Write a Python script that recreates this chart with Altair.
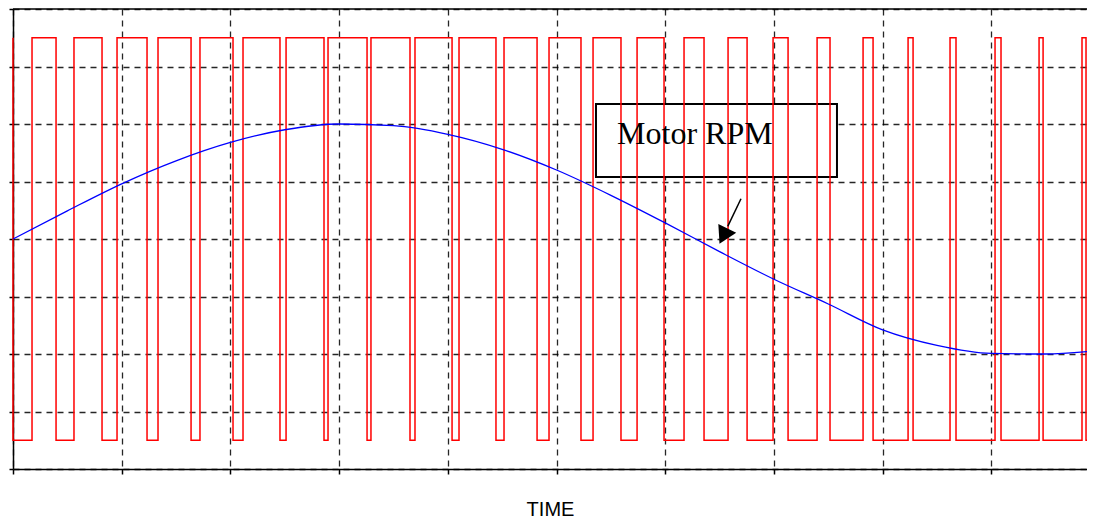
import altair as alt
import pandas as pd

# ---- data ----
X_END = 9.880          # visible end of the time axis (plot is cut at the window edge)
PWM_LOW = 0.5
PWM_HIGH = 7.5
pwm_rise = [0.175, 0.561, 0.957, 1.334, 1.720, 2.116, 2.512, 2.898, 3.293, 3.698,
            4.103, 4.517, 4.931, 5.336, 5.741, 6.173, 6.578, 6.992, 7.397, 7.820,
            8.234, 8.620, 9.034, 9.439, 9.834]
pwm_fall = [0.396, 0.819, 1.233, 1.638, 2.024, 2.456, 2.861, 3.257, 3.652, 4.039,
            4.443, 4.821, 5.225, 5.593, 5.989, 6.357, 6.753, 7.130, 7.516, 7.912,
            8.280, 8.675, 9.089, 9.476, 9.871]

rpm_t = [0, 0.5, 1.0, 1.5, 2.0, 2.5, 3.0, 3.5, 4.0, 4.5, 5.0, 5.5, 6.0, 6.5,
         7.0, 7.5, 8.0, 8.5, 9.0, 9.5, 9.880]
rpm_v = [4.00, 4.49, 4.96, 5.36, 5.68, 5.90, 6.00, 5.97, 5.82, 5.56, 5.20, 4.76,
         4.28, 3.78, 3.30, 2.87, 2.42, 2.15, 2.01, 2.00, 2.04]

x_ticks = [0, 1, 2, 3, 4, 5, 6, 7, 8, 9]
y_ticks = [0, 1, 2, 3, 4, 5, 6, 7, 8]
x_title = "TIME"
Y_TOP = 8

label_text = ["Motor RPM"]
label_box_x = [5.363]
label_box_x2 = [7.580]
label_box_y = [6.35]
label_box_y2 = [5.08]
label_x = [5.557]
label_y = [5.655]
arrow_x = [6.697]
arrow_y = [4.70]
arrow_x2 = [6.575]
arrow_y2 = [4.22]
head_x = [6.535]
head_y = [4.05]

# ---- tables ----
pwm_t, pwm_v = [0.0, 0.0], [PWM_HIGH, PWM_LOW]
for r, f in zip(pwm_rise, pwm_fall):
    pwm_t += [r, r, f, f]
    pwm_v += [PWM_LOW, PWM_HIGH, PWM_HIGH, PWM_LOW]
pwm_t.append(X_END)
pwm_v.append(PWM_LOW)
pwm_df = pd.DataFrame({"t": pwm_t, "v": pwm_v, "o": range(len(pwm_t))})
rpm_df = pd.DataFrame({"t": rpm_t, "v": rpm_v})
box_df = pd.DataFrame({"t": label_box_x, "t2": label_box_x2, "v": label_box_y, "v2": label_box_y2})
txt_df = pd.DataFrame({"t": label_x, "v": label_y, "label": label_text})
arr_df = pd.DataFrame({"t": arrow_x, "v": arrow_y, "t2": arrow_x2, "v2": arrow_y2})
head_df = pd.DataFrame({"t": head_x, "v": head_y})
top_df = pd.DataFrame({"t": [0.0], "t2": [X_END], "v": [Y_TOP]})

xscale = alt.Scale(domain=[0, X_END], nice=False, zero=False)
yscale = alt.Scale(domain=[0, 8], nice=False, zero=False)
xaxis = alt.Axis(values=x_ticks, labels=False, title=x_title, tickSize=5)
yaxis = alt.Axis(values=y_ticks, labels=False, title=None, tickSize=4)


def X(f="t"):
    return alt.X(f + ":Q", scale=xscale, axis=xaxis)


def Y(f="v"):
    return alt.Y(f + ":Q", scale=yscale, axis=yaxis)


top = alt.Chart(top_df).mark_rule(color="black", strokeWidth=1.5).encode(
    x=X(), x2="t2:Q", y=Y())

box = alt.Chart(box_df).mark_rect(fill="white", stroke="black", strokeWidth=2).encode(
    x=X(), x2="t2:Q", y=Y(), y2="v2:Q")

pwm = alt.Chart(pwm_df).mark_line(color="#ff0000", strokeWidth=1.5).encode(
    x=X(), y=Y(), order="o:Q")

rpm = alt.Chart(rpm_df).mark_line(color="#0000ff", strokeWidth=1.3, interpolate="monotone").encode(
    x=X(), y=Y())

txt = alt.Chart(txt_df).mark_text(font="Liberation Serif", fontSize=32, align="left",
                                  baseline="alphabetic", color="black").encode(
    x=X(), y=Y(), text="label:N")

arrow = alt.Chart(arr_df).mark_rule(color="black", strokeWidth=1.5).encode(
    x=X(), y=Y(), x2="t2:Q", y2="v2:Q")

head = alt.Chart(head_df).mark_point(shape="triangle-up", filled=True, color="black",
                                     size=400, angle=206.6, opacity=1).encode(
    x=X(), y=Y())

chart = alt.layer(top, box, pwm, rpm, txt, arrow, head).properties(
    width=1074, height=460,
    background="white",
    autosize=alt.AutoSizeParams(type="none"),
    padding={"left": 5, "top": 1, "right": 0, "bottom": 50},
).configure_view(stroke=None).configure_axis(
    domainColor="black", domainWidth=1.5, tickColor="black", tickWidth=1.5,
    gridColor="#000", gridDash=[6, 5], gridOpacity=0.85, gridWidth=1.3,
    titleFont="Liberation Sans", titleFontSize=20, titleFontWeight="normal",
    titleColor="black", titlePadding=25,
)

chart.save("out.html", embed_options={"renderer": "svg", "actions": False})
